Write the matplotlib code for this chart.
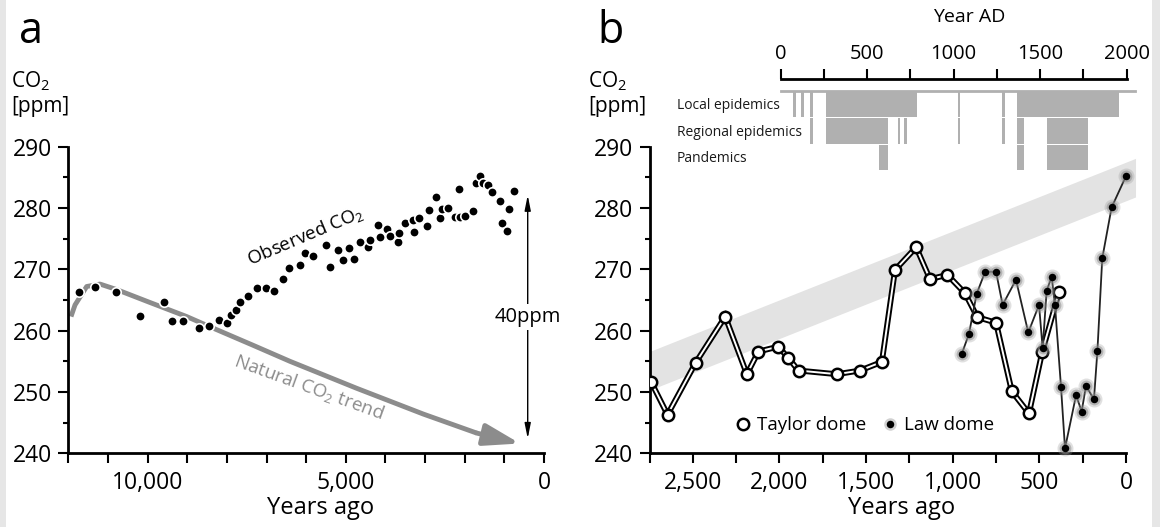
import matplotlib
matplotlib.use("Agg")
import matplotlib.pyplot as plt
from matplotlib.lines import Line2D
from matplotlib.patches import Rectangle
from matplotlib.ticker import FuncFormatter, MultipleLocator
from matplotlib.transforms import blended_transform_factory

plt.rcParams["font.family"] = ["Open Sans", "DejaVu Sans"]
plt.rcParams["mathtext.fontset"] = "custom"
plt.rcParams["mathtext.rm"] = "Open Sans"
plt.rcParams["mathtext.it"] = "Open Sans:italic"
plt.rcParams["mathtext.bf"] = "Open Sans:bold"

# ---- panel a: observed Holocene CO2 (years ago, ppm) ----
obs_years = [11740, 11330, 10800, 10190, 9590, 9380, 9100, 8700, 8450, 8190,
             8000, 7900, 7770, 7670, 7460, 7250, 7010, 6800, 6590, 6430,
             6160, 6030, 5820, 5510, 5400, 5200, 5060, 4920, 4790, 4640,
             4430, 4390, 4200, 4140, 3970, 3890, 3680, 3650, 3510, 3300,
             3270, 3150, 2960, 2890, 2730, 2620, 2580, 2430, 2250, 2140,
             2120, 1990, 1800, 1720, 1620, 1530, 1410, 1320, 1110, 1070,
             940, 880, 750]
obs_co2 = [266.3, 267.1, 266.3, 262.4, 264.6, 261.5, 261.5, 260.4, 260.8, 261.7,
           261.2, 262.6, 263.3, 264.7, 265.7, 266.9, 266.9, 266.5, 268.5, 270.2,
           270.7, 272.7, 272.2, 274.0, 270.4, 273.2, 271.5, 273.4, 271.7, 274.5,
           273.7, 274.8, 277.2, 275.2, 276.5, 275.4, 274.5, 275.9, 277.5, 278.0,
           276.1, 278.3, 277.0, 279.7, 281.8, 278.3, 279.8, 280.0, 278.6, 283.1,
           278.5, 278.7, 279.5, 284.1, 285.2, 284.1, 283.8, 282.6, 281.2, 277.6,
           276.3, 279.8, 282.8]

# natural CO2 trend curve
trend_years = [11932, 11830, 11536, 11201, 10780, 9983, 9014, 8342, 7333,
               6408, 4725, 3045, 1698, 605]
trend_co2 = [262.3, 264.2, 267.2, 267.6, 266.7, 264.7, 262.3, 260.4, 257.6,
             255.0, 250.6, 246.4, 243.3, 241.6]

# 40 ppm gap marker
gap_year = 411
gap_low, gap_high = 242.4, 282.1

# ---- panel b: last 2750 years ----
taylor_years = [2742, 2646, 2483, 2313, 2188, 2121, 2006, 1948, 1890, 1669, 1535,
                1409, 1333, 1211, 1131, 1031, 929, 858, 750, 659, 560, 483, 387]
taylor_co2 = [251.7, 246.3, 254.8, 262.3, 252.9, 256.6, 257.4, 255.5, 253.5, 252.9,
              253.5, 254.9, 269.9, 273.6, 268.4, 269.1, 266.1, 262.2, 261.3, 250.1,
              246.5, 256.6, 266.3]

law_years = [948, 906, 862, 813, 750, 712, 635, 564, 502, 481, 458, 429, 410,
             375, 352, 288, 256, 231, 185, 165, 137, 83, 0]
law_co2 = [256.2, 259.5, 266.0, 269.6, 269.6, 264.2, 268.3, 259.7, 264.2, 257.1,
           266.5, 268.8, 264.2, 250.8, 240.8, 249.5, 246.8, 251.0, 248.8, 256.7,
           271.8, 280.1, 285.2]

band_years = [2750, -55]
band_low = [250.3, 281.8]
band_high = [256.6, 288.1]

# epidemics (year AD)
epi_rows = ["Local epidemics", "Regional epidemics", "Pandemics"]
local_start = [72, 118, 172, 262, 1024, 1280, 1364]
local_end = [86, 132, 186, 790, 1038, 1294, 1958]
regional_start = [172, 262, 677, 715, 1024, 1280, 1364, 1538]
regional_end = [186, 618, 691, 729, 1038, 1294, 1408, 1778]
pandemic_start = [568, 1364, 1538]
pandemic_end = [618, 1408, 1778]

W, H = 1160, 527
fig = plt.figure(figsize=(W / 100, H / 100), dpi=100)
fig.patch.set_facecolor("#e6e6e6")
fig.patches.append(Rectangle((6 / W, 0), (1152 - 6) / W, 1, transform=fig.transFigure,
                             facecolor="white", edgecolor="none", zorder=-1))

TICK_FS = 16.5
GRAY = "#8c8c8c"


def style_axis(ax):
    for side in ["top", "right"]:
        ax.spines[side].set_visible(False)
    for side in ["left", "bottom"]:
        ax.spines[side].set_linewidth(2)
    ax.patch.set_alpha(0)
    ax.set_ylim(240, 290)
    ax.yaxis.set_major_locator(MultipleLocator(10))
    ax.yaxis.set_minor_locator(MultipleLocator(5))
    ax.tick_params(which="major", length=7.5, width=1.5, labelsize=TICK_FS, pad=4)
    ax.tick_params(which="minor", length=3.5, width=1.5)
    ax.tick_params(axis="x", pad=5)
    ax.set_xlabel("Years ago", fontsize=17)
    ax.xaxis.label.set_va("center")
    ax.xaxis.set_label_coords(0.53, -0.178)


# ---------------- panel a ----------------
ax_a = fig.add_axes([68.3 / W, 1 - 453.3 / H, 475.7 / W, 306.6 / H])
style_axis(ax_a)
ax_a.set_xlim(12000, 0)
ax_a.xaxis.set_major_locator(MultipleLocator(1000))
ax_a.xaxis.set_major_formatter(
    FuncFormatter(lambda v, p: f"{int(round(v)):,}" if round(v) % 5000 == 0 else ""))

ax_a.plot(trend_years[:-1], trend_co2[:-1], color=GRAY, lw=3.5,
          solid_capstyle="butt", solid_joinstyle="round", zorder=2)
ax_a.annotate("", xy=(trend_years[-1], trend_co2[-1]),
              xytext=(trend_years[-2], trend_co2[-2]),
              arrowprops=dict(arrowstyle="-|>,head_length=0.62,head_width=0.19",
                              mutation_scale=35, color=GRAY, lw=3.5,
                              shrinkA=0, shrinkB=0), zorder=2)
ax_a.plot(obs_years, obs_co2, ls="none", marker="o", ms=6.8, mfc="black",
          mec="white", mew=1.2, zorder=3)

ax_a.annotate("", xy=(gap_year, gap_low), xytext=(gap_year, gap_high),
              arrowprops=dict(arrowstyle="<|-|>,head_length=0.9,head_width=0.18",
                              lw=1, color="black", shrinkA=0, shrinkB=0))
ax_a.text(gap_year, (gap_low + gap_high) / 2, "40ppm", fontsize=14.5,
          ha="center", va="center",
          bbox=dict(facecolor="white", edgecolor="none", pad=2))
ax_a.text(6029, 275.4, "Observed CO$_2$", rotation=23, fontsize=13.5,
          ha="center", va="center", rotation_mode="anchor")
ax_a.text(5928, 250.8, "Natural CO$_2$ trend", rotation=-20, fontsize=13.5,
          color=GRAY, ha="center", va="center", rotation_mode="anchor")

# ---------------- panel b ----------------
ax_b = fig.add_axes([649.5 / W, 1 - 453.3 / H, 476.5 / W, 306.6 / H])
style_axis(ax_b)
ax_b.set_xlim(2750, 0)
ax_b.xaxis.set_major_locator(MultipleLocator(250))
ax_b.xaxis.set_major_formatter(
    FuncFormatter(lambda v, p: f"{int(round(v)):,}" if round(v) % 500 == 0 else ""))

ax_b.fill_between(band_years, band_low, band_high, color="#e3e3e3", lw=0,
                  clip_on=False, zorder=1)
ax_b.plot(taylor_years, taylor_co2, color="black", lw=4.2, zorder=3,
          solid_joinstyle="miter")
ax_b.plot(taylor_years, taylor_co2, color="white", lw=1.4, zorder=3.1)
ax_b.plot(taylor_years, taylor_co2, ls="none", marker="o", ms=8.2, mfc="white",
          mec="black", mew=1.8, zorder=3.2)

ax_b.plot(law_years, law_co2, color="#222222", lw=1.3, zorder=4, clip_on=False)
ax_b.plot(law_years, law_co2, ls="none", marker="o", ms=11.5, color="#9a9a9a",
          alpha=0.3, mew=0, zorder=4.1, clip_on=False)
ax_b.plot(law_years, law_co2, ls="none", marker="o", ms=8.5, color="#8a8a8a",
          alpha=0.5, mew=0, zorder=4.2, clip_on=False)
ax_b.plot(law_years, law_co2, ls="none", marker="o", ms=5.4, color="black",
          mew=0, zorder=4.3, clip_on=False)

h_taylor = Line2D([], [], ls="none", marker="o", ms=8.2, mfc="white", mec="black", mew=1.8)
h_halo = Line2D([], [], ls="none", marker="o", ms=9, color="#9a9a9a", alpha=0.45, mew=0)
h_law = Line2D([], [], ls="none", marker="o", ms=5.4, color="black", mew=0)
ax_b.legend([h_taylor, (h_halo, h_law)], ["Taylor dome", "Law dome"],
            loc="center left", bbox_to_anchor=(0.179, 0.092), ncol=2,
            frameon=False, fontsize=13.5, handlelength=0.9, handletextpad=0.3,
            columnspacing=0.8, borderpad=0, borderaxespad=0)

# ---------------- epidemics inset ----------------
ax_e = fig.add_axes([780.7 / W, 1 - 171 / H, 346 / W, 92 / H])
ax_e.set_xlim(0, 2000)
ax_e.set_ylim(2.5, -0.95)
ax_e.patch.set_alpha(0)
for side in ["left", "right", "bottom"]:
    ax_e.spines[side].set_visible(False)
ax_e.spines["top"].set_linewidth(2)
ax_e.xaxis.set_ticks_position("top")
ax_e.xaxis.set_major_locator(MultipleLocator(250))
ax_e.xaxis.set_major_formatter(
    FuncFormatter(lambda v, p: f"{int(round(v))}" if round(v) % 500 == 0 else ""))
ax_e.tick_params(axis="x", direction="out", length=7.5, width=1.5, labelsize=14.5, pad=3)
ax_e.set_yticks([])

BAR = "#b0b0b0"
for row, (starts, ends) in enumerate([(local_start, local_end),
                                      (regional_start, regional_end),
                                      (pandemic_start, pandemic_end)]):
    ax_e.barh(row, [e - s for s, e in zip(starts, ends)], left=starts,
              height=0.94, color=BAR, lw=0)
ax_e.plot([0, 2048], [-0.51, -0.51], color=BAR, lw=2, clip_on=False)

lab_tr = blended_transform_factory(fig.transFigure, ax_e.transData)
for row, name in enumerate(epi_rows):
    ax_e.text(677 / W, row + 0.05, name, transform=lab_tr, fontsize=10,
              ha="left", va="center", color="#1a1a1a")

fig.text(969 / W, 1 - 17 / H, "Year AD", fontsize=14, ha="center", va="center")

# ---------------- panel letters and y labels ----------------
fig.text(19 / W, 1 - 43 / H, "a", fontsize=31, va="baseline")
fig.text(597 / W, 1 - 43 / H, "b", fontsize=31, va="baseline")
for x0 in (11, 588):
    fig.text(x0 / W, 1 - 87 / H, "CO$_2$", fontsize=15, va="baseline")
    fig.text(x0 / W, 1 - 112 / H, "[ppm]", fontsize=15, va="baseline")

fig.savefig("out.png", dpi=100, facecolor=fig.get_facecolor())
